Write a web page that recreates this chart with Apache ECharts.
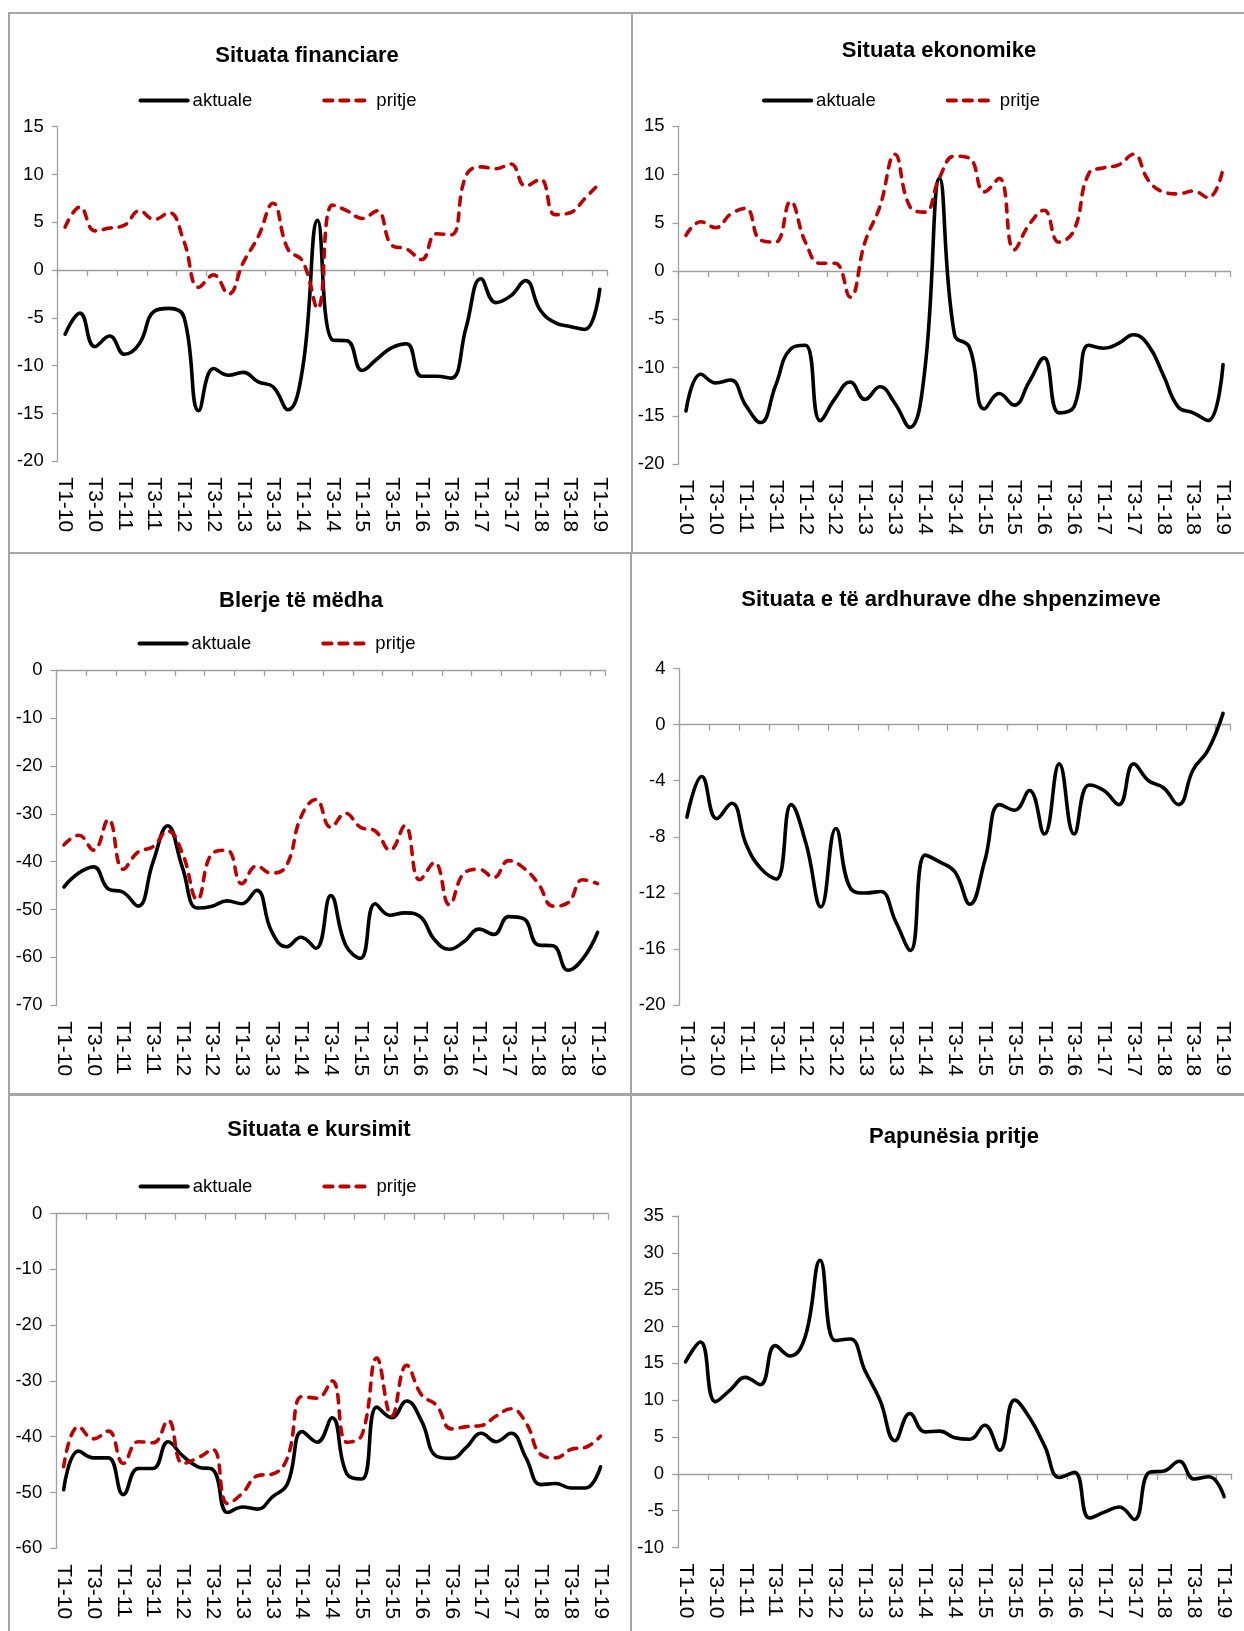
<!DOCTYPE html>
<html>
<head>
<meta charset="utf-8">
<script src="https://cdn.jsdelivr.net/npm/echarts@6/dist/echarts.min.js"></script>
<style>
html,body{margin:0;padding:0;background:#fff;}
#c{width:1244px;height:1631px;}
</style>
</head>
<body>
<div id="c"></div>
<script>
// ---- DATA ----
const categories = ['T1-10','T2-10','T3-10','T4-10','T1-11','T2-11','T3-11','T4-11','T1-12','T2-12','T3-12','T4-12',
  'T1-13','T2-13','T3-13','T4-13','T1-14','T2-14','T3-14','T4-14','T1-15','T2-15','T3-15','T4-15',
  'T1-16','T2-16','T3-16','T4-16','T1-17','T2-17','T3-17','T4-17','T1-18','T2-18','T3-18','T4-18','T1-19'];

const titles = ['Situata financiare','Situata ekonomike','Blerje të mëdha','Situata e të ardhurave dhe shpenzimeve','Situata e kursimit','Papunësia pritje'];
const seriesNames = ['aktuale','pritje'];

const financiareAktuale = [-6.7,-4.5,-8.0,-6.9,-8.8,-7.7,-4.3,-4.0,-4.9,-14.7,-10.3,-11.0,-10.7,-11.7,-12.2,-14.6,-10.2,5.2,-7.3,-7.4,-10.5,-9.3,-8.1,-7.7,-11.1,-11.1,-11.3,-6.0,-0.9,-3.4,-2.7,-1.1,-4.2,-5.5,-5.9,-6.2,-2.0];
const financiarePritje = [4.5,6.6,4.1,4.4,4.7,6.2,5.3,6.0,3.0,-1.8,-0.5,-2.5,0.8,3.5,7.0,2.2,0.9,-4.0,6.8,6.2,5.4,6.2,2.6,2.2,1.1,3.8,3.7,9.9,10.8,10.6,11.1,8.8,9.5,5.8,6.0,7.5,9.1];

const ekonomikeAktuale = [-14.5,-10.7,-11.6,-11.3,-13.9,-15.7,-11.9,-8.1,-7.7,-15.5,-13.2,-11.5,-13.3,-12.0,-13.7,-16.2,-10.4,9.6,-6.6,-7.9,-14.3,-12.7,-13.9,-11.5,-9.0,-14.7,-14.1,-7.7,-8.0,-7.5,-6.6,-7.7,-10.8,-14.1,-14.7,-15.5,-9.7];
const ekonomikePritje = [3.7,5.1,4.5,5.9,6.5,3.2,3.0,7.2,3.0,0.8,0.8,-2.7,3.0,6.7,12.1,6.7,6.1,9.7,11.9,11.7,8.2,9.6,2.2,4.8,6.3,3.0,4.2,10.1,10.7,11.0,12.1,9.4,8.2,8.0,8.3,7.6,10.6];

const blerjeAktuale = [-45.3,-42.4,-41.1,-45.7,-46.4,-49.3,-40.2,-32.5,-41.3,-49.7,-49.3,-48.2,-48.8,-46.0,-54.5,-57.8,-55.8,-58.1,-47.1,-57.4,-60.2,-48.8,-51.2,-50.7,-51.4,-56.3,-58.3,-56.7,-54.1,-55.2,-51.5,-51.9,-57.4,-57.6,-62.7,-60.3,-54.8];
const blerjePritje = [-36.5,-34.5,-37.6,-31.2,-41.6,-38.0,-36.9,-33.6,-38.3,-47.9,-38.3,-37.6,-44.6,-40.9,-42.4,-40.9,-30.6,-27.0,-32.8,-29.9,-32.8,-33.6,-37.6,-32.5,-43.8,-40.2,-49.0,-42.4,-41.6,-43.3,-39.8,-41.3,-44.6,-49.3,-48.6,-43.8,-44.6];

const ardhuraAktuale = [-6.6,-3.7,-6.7,-5.6,-8.6,-10.3,-11.0,-5.7,-8.5,-13.0,-7.4,-11.7,-12.0,-11.9,-14.0,-16.1,-9.3,-9.8,-10.5,-12.8,-9.7,-5.7,-6.1,-4.7,-7.8,-2.8,-7.8,-4.3,-4.7,-5.7,-2.8,-4.0,-4.5,-5.7,-3.2,-1.8,0.8];

const kursimiAktuale = [-49.5,-42.6,-43.8,-43.8,-50.4,-45.7,-45.7,-40.9,-43.5,-45.4,-45.9,-53.6,-52.6,-53.0,-50.8,-48.5,-39.1,-41.0,-36.6,-46.7,-47.6,-34.7,-36.6,-33.6,-37.2,-43.5,-43.9,-41.9,-39.4,-40.9,-39.4,-43.8,-48.6,-48.4,-49.2,-49.2,-45.4];
const kursimiPritje = [-45.4,-38.2,-40.4,-39.0,-44.8,-40.9,-41.1,-37.1,-44.8,-43.8,-42.3,-52.0,-50.1,-47.0,-46.7,-43.8,-32.8,-33.1,-30.0,-41.0,-39.7,-25.9,-36.3,-27.2,-32.5,-34.4,-38.6,-38.2,-38.0,-36.3,-35.0,-37.5,-43.2,-43.8,-42.3,-41.9,-39.9];

const papunesiaPritje = [15.2,17.9,9.8,11.4,13.1,12.1,17.4,16.0,18.6,29.0,18.1,18.3,14.0,10.0,4.5,8.2,5.7,5.8,4.9,4.7,6.6,3.2,10.0,7.6,3.8,-0.5,0.2,-6.0,-5.2,-4.5,-6.2,0.2,0.4,1.7,-0.7,-0.4,-3.1];

// y-axis ranges [min, max, interval]
const yRanges = [[-20,15,5],[-20,15,5],[-70,0,10],[-20,4,4],[-60,0,10],[-10,35,5]];

// ---- LAYOUT ----
const FONT = 'Liberation Sans, Arial, sans-serif';
const AXIS_GRAY = '#a0a0a0';
const RED = '#c00000';

const grids = [
  {left:57.7, top:126.7, width:549.5, height:334.6},
  {left:678.5, top:126.3, width:552, height:337.7},
  {left:56.5, top:670.2, width:548.5, height:335},
  {left:679.5, top:668.5, width:551, height:336.7},
  {left:56.2, top:1213.6, width:551.8, height:334.6},
  {left:678, top:1216, width:553.6, height:331.5}
];
const titlePos = [[307,54],[939,49],[301,599],[951,598],[319,1128],[954,1135]];
const legendPos = [[138.5,101],[762,101],[137.5,644],null,[138.6,1187],null];

const panelSeries = [
  [financiareAktuale, financiarePritje],
  [ekonomikeAktuale, ekonomikePritje],
  [blerjeAktuale, blerjePritje],
  [ardhuraAktuale],
  [kursimiAktuale, kursimiPritje],
  [papunesiaPritje]
];

const option = {
  animation:false,
  backgroundColor:'#fff',
  textStyle:{fontFamily:FONT},
  grid:[], xAxis:[], yAxis:[], series:[], title:[], legend:[], graphic:[]
};

// panel frames
const frames = [[9,13,623,540],[632,13,620,540],[9,553,622,541],[631,553,621,541],[9,1095,622,545],[631,1095,621,545]];
frames.forEach(f=>{
  option.graphic.push({type:'rect',z:-1,shape:{x:f[0],y:f[1],width:f[2],height:f[3]},style:{fill:'none',stroke:'#a6a6a6',lineWidth:2}});
});

grids.forEach((g,i)=>{
  option.grid.push(Object.assign({containLabel:false},g));
  // label axis at the bottom
  option.xAxis.push({
    type:'category', gridIndex:i, data:categories, boundaryGap:true, position:'bottom',
    axisLine:{show:false, onZero:false}, axisTick:{show:false},
    axisLabel:{interval:1, rotate:-90, margin:16, fontSize:21, color:'#000', fontFamily:FONT}
  });
  // zero line axis with ticks
  option.xAxis.push({
    type:'category', gridIndex:i, data:categories, boundaryGap:true, position:'bottom',
    axisLine:{show:true, onZero:true, lineStyle:{color:AXIS_GRAY,width:1.3}},
    axisTick:{show:true, interval:1, length:6, lineStyle:{color:AXIS_GRAY,width:1.3}},
    axisLabel:{show:false}
  });
  const r = yRanges[i];
  option.yAxis.push({
    type:'value', gridIndex:i, min:r[0], max:r[1], interval:r[2],
    axisLine:{show:true, onZero:false, lineStyle:{color:AXIS_GRAY,width:1.3}},
    axisTick:{show:true, length:6, lineStyle:{color:AXIS_GRAY,width:1.3}},
    splitLine:{show:false},
    axisLabel:{margin:14, fontSize:18.5, color:'#000', fontFamily:FONT}
  });
  option.title.push({
    text:titles[i], left:titlePos[i][0], top:titlePos[i][1]-9, textAlign:'center', padding:0,
    textStyle:{fontSize:22, fontWeight:'bold', color:'#000', fontFamily:FONT}
  });
  const ps = panelSeries[i];
  ps.forEach((d,k)=>{
    const isDash = (ps.length===2 && k===1);
    option.series.push({
      type:'line', name: ps.length===2 ? seriesNames[k] : titles[i],
      xAxisIndex:2*i, yAxisIndex:i, data:d,
      smooth:0.45, symbol:'none', showSymbol:false,
      lineStyle: isDash ? {color:RED, width:3.6, type:[8,8], cap:'round'} : {color:'#000', width:3.6, cap:'round'},
      itemStyle:{color: isDash ? RED : '#000'}
    });
  });
  if (legendPos[i]) {
    option.legend.push({
      data:seriesNames, left:legendPos[i][0], top:legendPos[i][1]-10, padding:0,
      itemWidth:47, itemHeight:14, itemGap:70, selectedMode:false,
      itemStyle:{opacity:0, borderWidth:0},
      lineStyle:{width:4.2, cap:'round'},
      textStyle:{fontSize:18.5, color:'#000', fontFamily:FONT}
    });
  }
});

const chart = echarts.init(document.getElementById('c'), null, {renderer:'canvas'});
chart.setOption(option);
</script>
</body>
</html>
